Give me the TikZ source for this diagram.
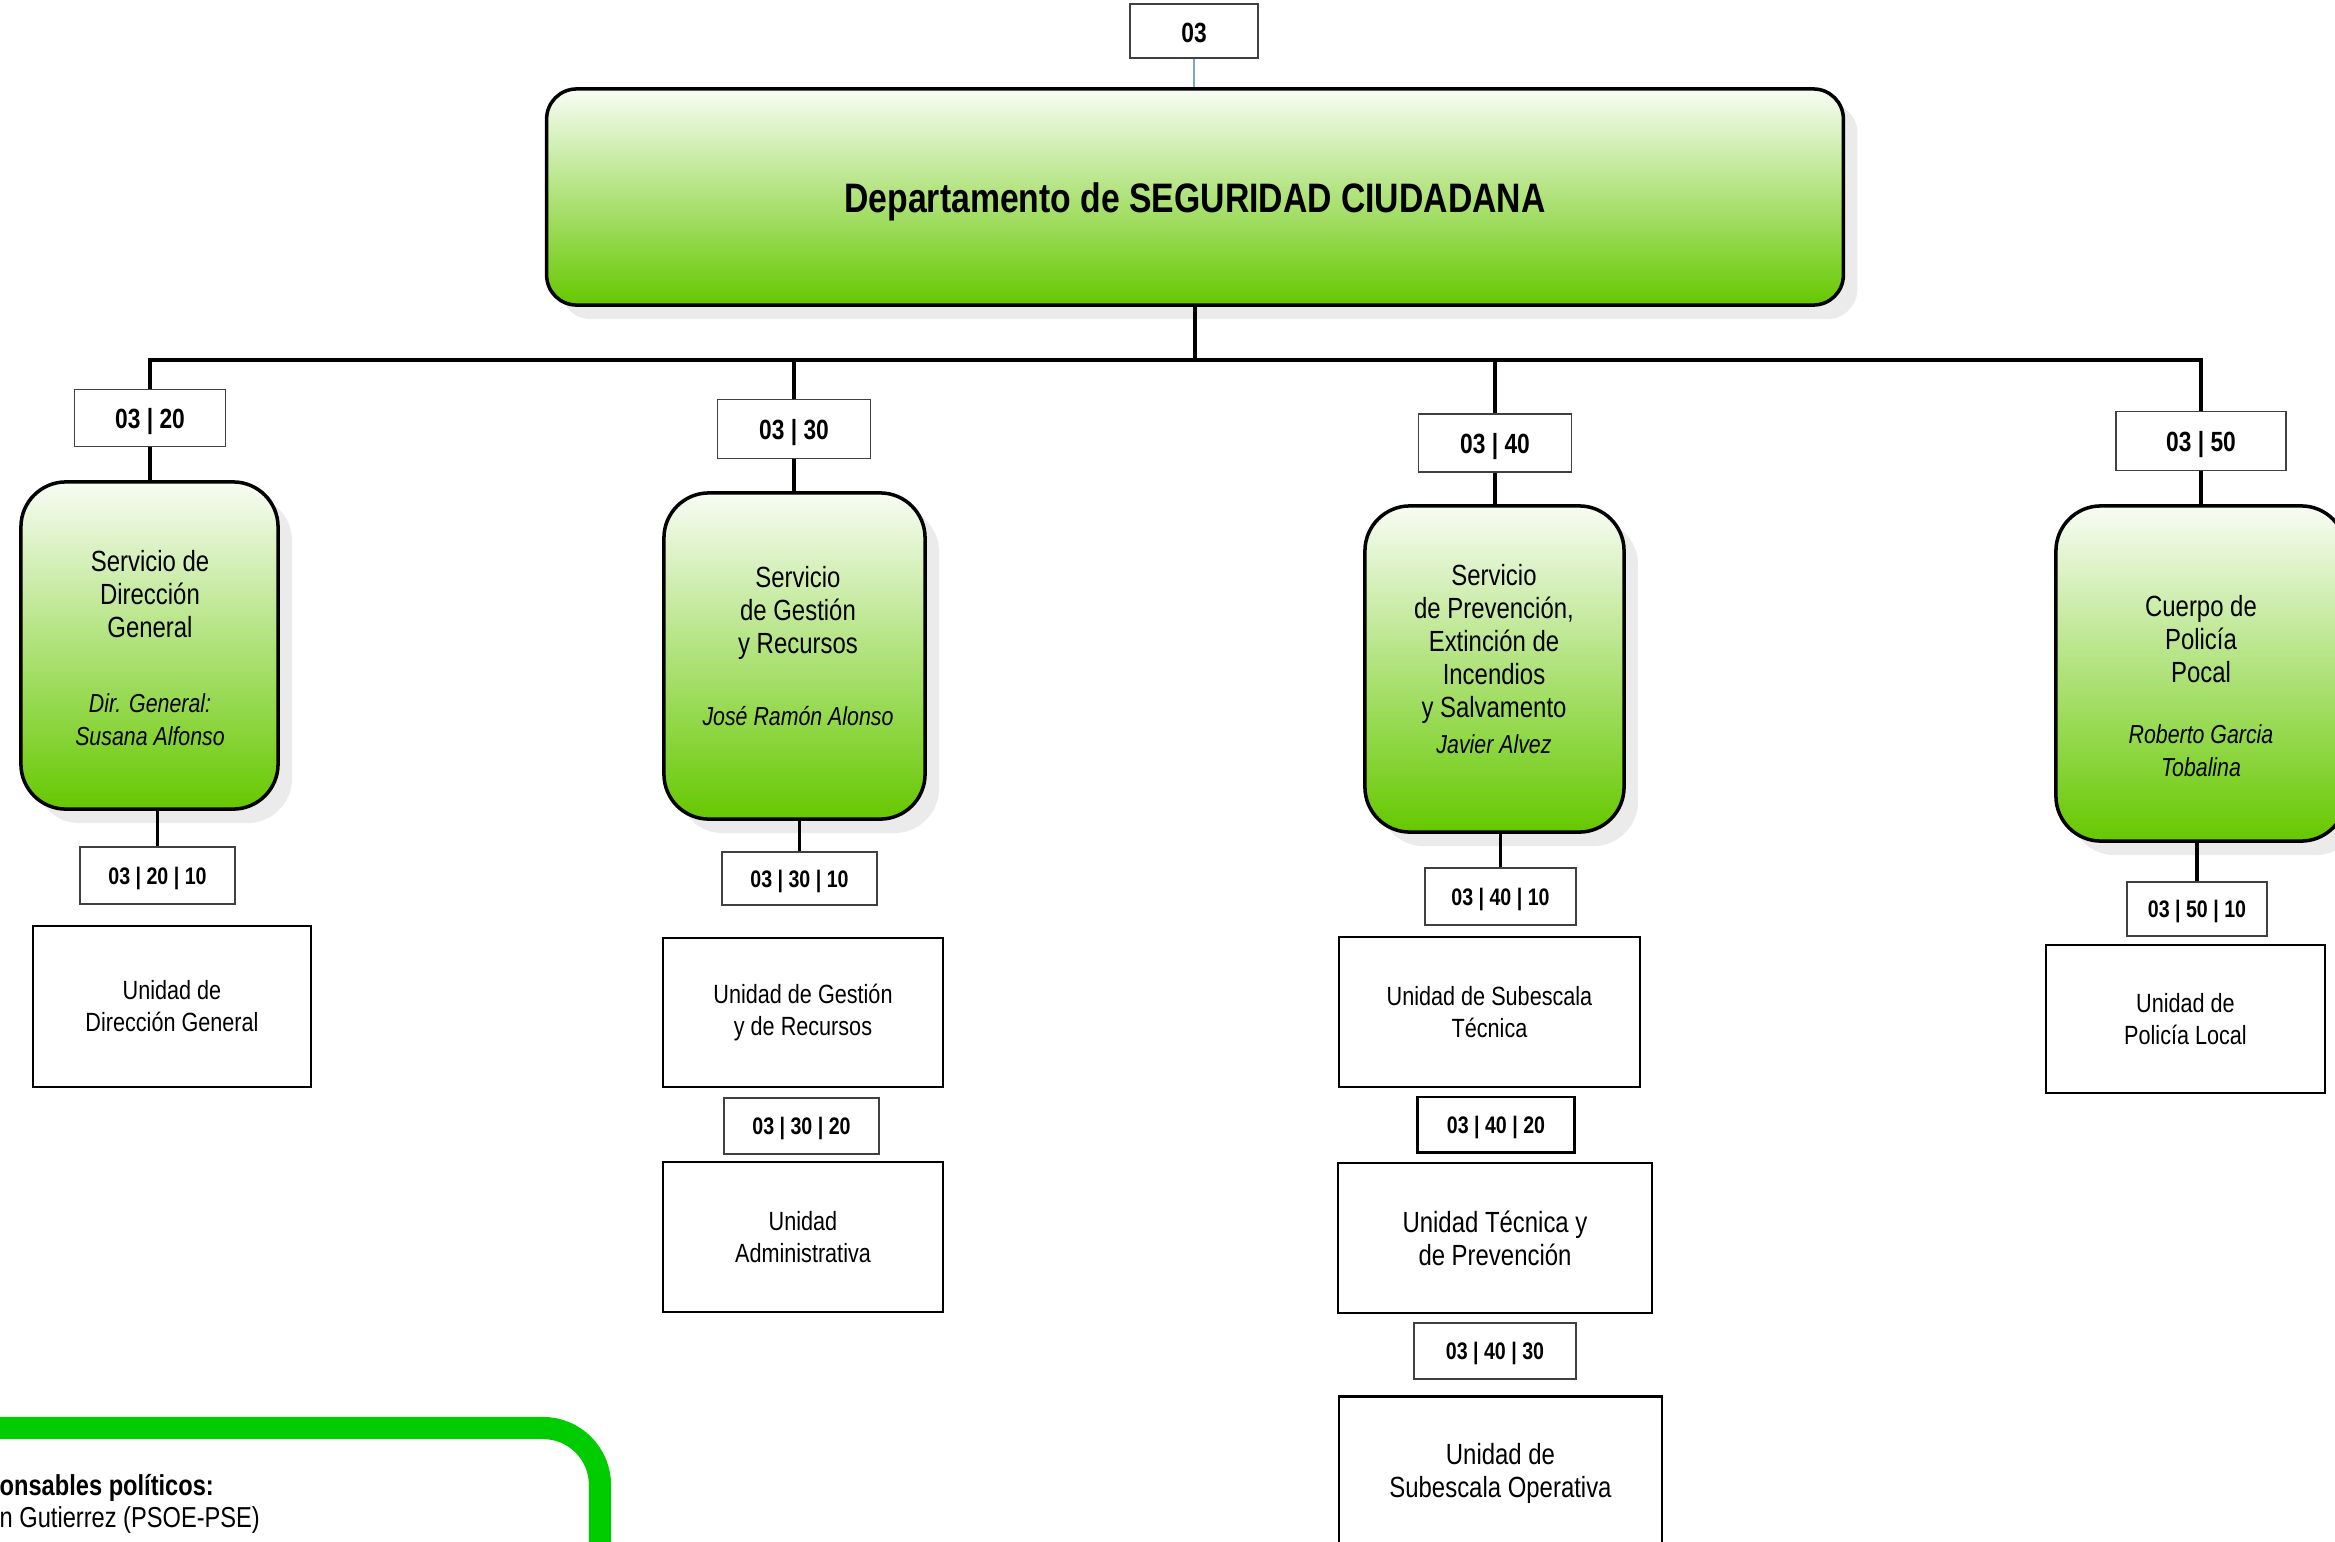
\documentclass[tikz,border=0pt]{standalone}
\usepackage{fontspec}
\setmainfont{Liberation Sans}[FakeStretch=0.82]
\usetikzlibrary{shadows}
\definecolor{topgreen}{RGB}{248,252,244}
\definecolor{botgreen}{RGB}{102,200,0}
\definecolor{framegreen}{RGB}{0,204,0}
\definecolor{thinblue}{RGB}{127,163,212}
\newcommand{\persfont}{\fontsize{7.4}{8.5}\selectfont\itshape}

\begin{document}
\begin{tikzpicture}[x=0.01cm, y=-0.01cm,
  link/.style={line width=1pt, black},
  codebox/.style={draw=black!75, line width=0.45pt, fill=white, inner sep=0pt, text depth=0pt,
    font=\fontsize{7.9}{9}\selectfont\bfseries},
  subcode/.style={codebox, font=\fontsize{6.8}{8}\selectfont\bfseries},
  unitbox/.style={draw, line width=0.75pt, fill=white, inner sep=0pt, align=center,
    font=\fontsize{7.5}{9.1}\selectfont},
  bigunit/.style={unitbox, font=\fontsize{8.3}{9.4}\selectfont},
  greenbox/.style={draw, line width=1pt, top color=topgreen, bottom color=botgreen,
    inner sep=0pt, drop shadow={shadow xshift=4pt, shadow yshift=-4pt, fill=black!8, opacity=1}},
  mainbox/.style={greenbox, rounded corners=3mm, font=\fontsize{11.7}{14}\selectfont\bfseries},
  servbox/.style={greenbox, rounded corners=4.5mm},
  servtext/.style={align=center, font=\fontsize{8.3}{9.4}\selectfont},
  polframe/.style={draw=framegreen, line width=6.3pt, rounded corners=5.7mm},
  poltext/.style={anchor=base west, inner sep=0pt, font=\fontsize{8.2}{9}\selectfont}]

  \clip (0,0) rectangle (2335,1542);
  \fill[white] (0,0) rectangle (2335,1542);

  % Department
  \node[codebox, minimum width=1.28cm, minimum height=0.54cm] (c03) at (1194,31) {\raisebox{-0.5pt}[\height][\depth]{03}};
  \node[mainbox, minimum width=12.96cm, minimum height=2.16cm] (dept) at (1195,197) {\raisebox{-1.3pt}[\height][\depth]{Departamento de SEGURIDAD CIUDADANA}};
  \draw[thinblue, line width=0.4pt] (c03.south) -- (c03.south |- dept.north);

  % Codes of the services
  \node[codebox, minimum width=1.51cm, minimum height=0.57cm] (c20) at (150,418) {03 | 20};
  \node[codebox, minimum width=1.53cm, minimum height=0.59cm] (c30) at (794,429) {03 | 30};
  \node[codebox, minimum width=1.53cm, minimum height=0.58cm] (c40) at (1495,443) {03 | 40};
  \node[codebox, minimum width=1.70cm, minimum height=0.59cm] (c50) at (2201,441) {03 | 50};

  % Services
  \node[servbox, minimum width=2.57cm, minimum height=3.27cm] (s20) at (149.5,645.5) {};
  \node[servbox, minimum width=2.61cm, minimum height=3.26cm] (s30) at (794.5,656) {};
  \node[servbox, minimum width=2.59cm, minimum height=3.26cm] (s40) at (1494.5,669) {};
  \node[servbox, minimum width=2.90cm, minimum height=3.35cm] (s50) at (2201,673.5) {};

  \node[servtext] (t20) at (150,648) {Servicio de\\Dirección\\General\\[12pt]{\persfont Dir. General:}\\{\persfont Susana Alfonso}};
  \node[servtext] (t30) at (798,646) {Servicio\\de Gestión\\y Recursos\\[11pt]{\persfont José Ramón Alonso}};
  \node[servtext] (t40) at (1494,659) {Servicio\\de Prevención,\\Extinción de\\Incendios\\y Salvamento\\[1pt]{\persfont Javier Alvez}};
  \node[servtext] (t50) at (2201,686) {Cuerpo de\\Policía\\Pocal\\[8pt]{\persfont Roberto Garcia}\\{\persfont Tobalina}};

  % Codes of the units
  \node[subcode, minimum width=1.55cm, minimum height=0.57cm] (c2010) at (157.5,875.5) {03 | 20 | 10};
  \node[subcode, minimum width=1.55cm, minimum height=0.53cm] (c3010) at (799.5,878.5) {03 | 30 | 10};
  \node[subcode, minimum width=1.55cm, minimum height=0.56cm] (c3020) at (801.5,1126) {03 | 30 | 20};
  \node[subcode, minimum width=1.51cm, minimum height=0.57cm] (c4010) at (1500.5,896.5) {03 | 40 | 10};
  \node[subcode, draw=black, line width=0.85pt, minimum width=1.56cm, minimum height=0.55cm] (c4020) at (1496,1124.5) {03 | 40 | 20};
  \node[subcode, minimum width=1.62cm, minimum height=0.56cm] (c4030) at (1495,1351) {03 | 40 | 30};
  \node[subcode, minimum width=1.40cm, minimum height=0.54cm] (c5010) at (2197,909) {03 | 50 | 10};

  % Units
  \node[unitbox, minimum width=2.78cm, minimum height=1.61cm] (u2010) at (172,1006.5) {Unidad de\\Dirección General};
  \node[unitbox, minimum width=2.80cm, minimum height=1.49cm] (u3010) at (803,1012.5) {Unidad de Gestión\\y de Recursos};
  \node[unitbox, minimum width=2.80cm, minimum height=1.50cm] (u3020) at (803,1237) {Unidad\\Administrativa};
  \node[unitbox, minimum width=3.01cm, minimum height=1.50cm] (u4010) at (1489.5,1012) {Unidad de Subescala\\Técnica};
  \node[bigunit, minimum width=3.14cm, minimum height=1.50cm] (u4020) at (1495,1238) {Unidad Técnica y\\de Prevención};
  \node[bigunit, minimum width=3.23cm, minimum height=1.53cm] (u4030) at (1500.5,1473) {Unidad de\\Subescala Operativa};
  \node[unitbox, minimum width=2.79cm, minimum height=1.48cm] (u5010) at (2185.5,1019) {Unidad de\\Policía Local};

  % Connectors
  \coordinate (hub) at (1195,360);
  \draw[link] (dept.south) -- (hub);
  \foreach \c/\s in {c20/s20, c30/s30, c40/s40, c50/s50} {
    \draw[link] (hub) -| (\c.north);
    \draw[link] (\c.south) -- (\c.south |- \s.north);
  }
  \foreach \s/\c in {s20/c2010, s30/c3010, s40/c4010, s50/c5010}
    \draw[link] (\c.north |- \s.south) -- (\c.north);

  % Political heads
  \draw[polframe] (-80,1428) -- (600,1428) -- (600,1700);
  \node[poltext, font=\fontsize{8.2}{9}\selectfont\bfseries] (polhead) at (-1,1495) {onsables políticos:};
  \node[poltext] (pol1) at (-1,1527) {n Gutierrez (PSOE-PSE)};
\end{tikzpicture}
\end{document}
